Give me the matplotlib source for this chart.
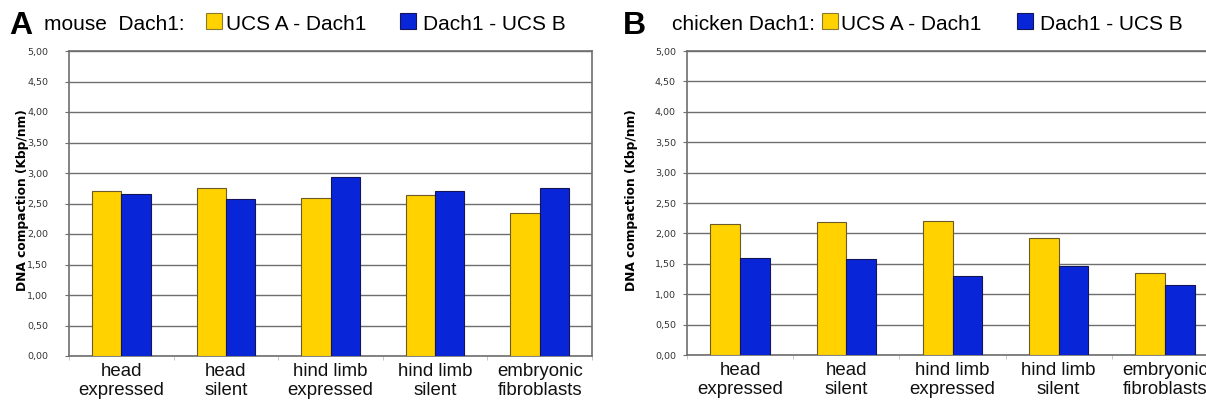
import matplotlib
matplotlib.use("Agg")
import matplotlib.pyplot as plt
from matplotlib.patches import Rectangle
import numpy as np

categories = ["head\nexpressed", "head\nsilent", "hind limb\nexpressed",
              "hind limb\nsilent", "embryonic\nfibroblasts"]
mouse_ucsA_dach1 = [2.70, 2.75, 2.59, 2.64, 2.34]
mouse_dach1_ucsB = [2.66, 2.57, 2.93, 2.71, 2.76]
chicken_ucsA_dach1 = [2.15, 2.18, 2.21, 1.92, 1.35]
chicken_dach1_ucsB = [1.59, 1.58, 1.30, 1.46, 1.15]
yticks = [0.0, 0.5, 1.0, 1.5, 2.0, 2.5, 3.0, 3.5, 4.0, 4.5, 5.0]
series_names = ["UCS A - Dach1", "Dach1 - UCS B"]

YELLOW = "#FFD200"
BLUE = "#0826D8"
YELLOW_EDGE = "#6b5a2a"
BLUE_EDGE = "#14145a"
GRID = "#6e6e6e"

W, H = 1206, 403
fig = plt.figure(figsize=(W / 100, H / 100), dpi=100)


def px_axes(x0, y0, x1, y1):
    return fig.add_axes([x0 / W, 1 - y1 / H, (x1 - x0) / W, (y1 - y0) / H])


def draw_panel(ax, vals_a, vals_b, ypad):
    x = np.arange(len(categories))
    bw = 0.28
    ax.bar(x - bw / 2, vals_a, bw, color=YELLOW, edgecolor=YELLOW_EDGE,
           linewidth=0.8, zorder=3)
    ax.bar(x + bw / 2, vals_b, bw, color=BLUE, edgecolor=BLUE_EDGE,
           linewidth=0.8, zorder=3)
    ax.set_xlim(-0.5, len(categories) - 0.5)
    ax.set_ylim(0, 5)
    ax.set_yticks(yticks)
    ax.set_yticklabels([f"{v:.2f}".replace(".", ",") for v in yticks],
                       fontsize=6.8, color="#333333", family="DejaVu Sans")
    ax.tick_params(axis="y", length=3, width=0.8, color=GRID, pad=ypad)
    ax.yaxis.grid(True, color=GRID, linewidth=1.0, zorder=0)
    ax.set_axisbelow(True)
    # category labels centred on groups, ticks on the boundaries
    ax.set_xticks(x)
    ax.set_xticklabels(categories, fontsize=13.4, family="Liberation Sans",
                       color="#111111", linespacing=1.12)
    ax.tick_params(axis="x", length=0, pad=5)
    ax.set_xticks(np.arange(len(categories) + 1) - 0.5, minor=True)
    ax.tick_params(axis="x", which="minor", length=3, width=0.6, color="#bbbbbb")
    for s in ax.spines.values():
        s.set_color(GRID)
        s.set_linewidth(1.2)


def header(x_letter, letter, x_title, title, sq1, x_t1, sq2, x_t2):
    fig.text(x_letter / W, 1 - 34 / H, letter, fontsize=23, fontweight="bold",
             family="Liberation Sans", va="baseline", ha="left")
    tb = 1 - 29.5 / H
    fig.text(x_title / W, tb, title, fontsize=15, family="Liberation Sans",
             va="baseline", ha="left")
    for sx, col, ec in ((sq1, YELLOW, "#8a7a30"), (sq2, BLUE, BLUE_EDGE)):
        fig.add_artist(Rectangle((sx / W, 1 - 29.3 / H), 16 / W, 16.6 / H,
                                 transform=fig.transFigure, facecolor=col,
                                 edgecolor=ec, linewidth=0.8))
    fig.text(x_t1 / W, tb, series_names[0], fontsize=15,
             family="Liberation Sans", va="baseline", ha="left")
    fig.text(x_t2 / W, tb, series_names[1], fontsize=15,
             family="Liberation Sans", va="baseline", ha="left")


ax1 = px_axes(69, 51, 592, 356)
draw_panel(ax1, mouse_ucsA_dach1, mouse_dach1_ucsB, ypad=12)
ax2 = px_axes(687, 51, 1218, 355)
draw_panel(ax2, chicken_ucsA_dach1, chicken_dach1_ucsB, ypad=5)

for xc in (22.5, 631):
    fig.text(xc / W, 1 - 200 / H, "DNA compaction (Kbp/nm)", rotation=90,
             fontsize=8.8, fontweight="bold", family="DejaVu Sans",
             ha="center", va="center")

header(9, "A", 44, "mouse  Dach1:", 206, 226, 400, 423)
header(623, "B", 672, "chicken Dach1:", 822, 841, 1017, 1040)

fig.savefig("out.png", dpi=100)
